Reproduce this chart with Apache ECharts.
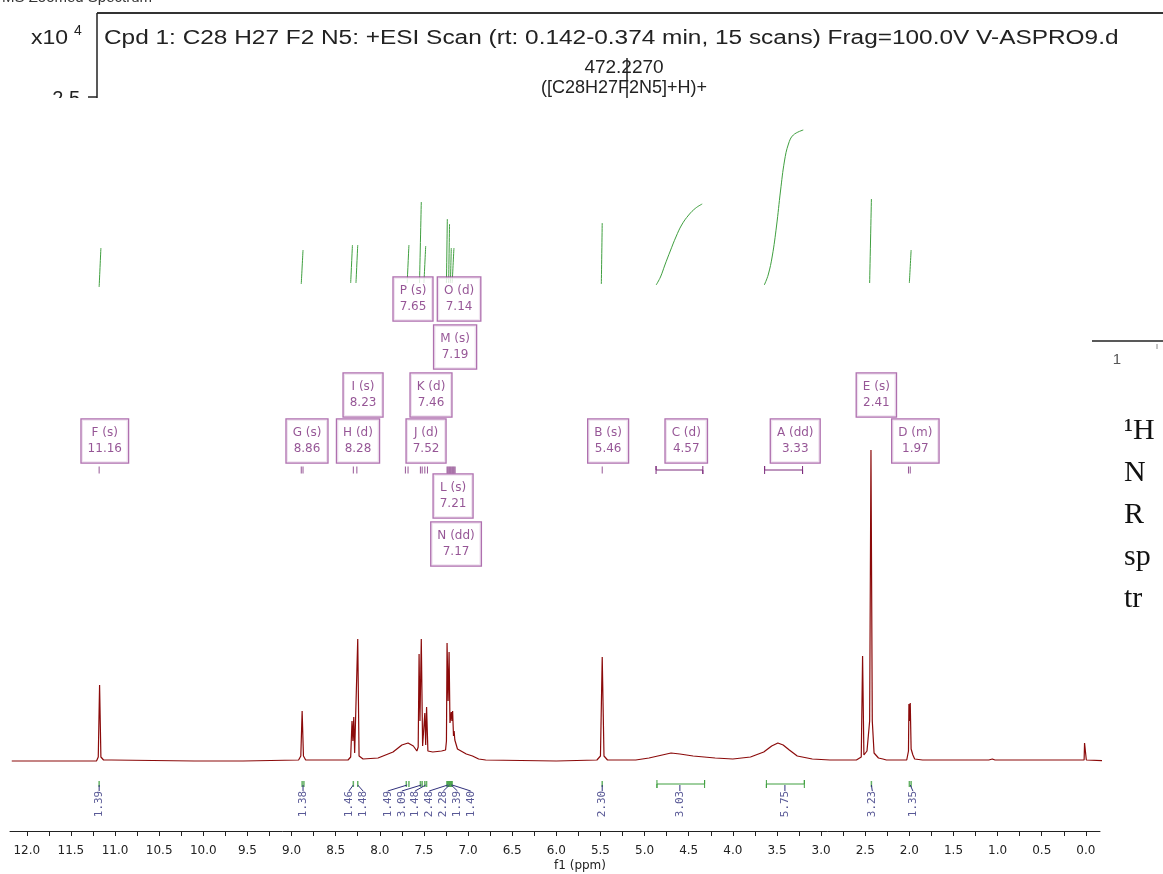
<!DOCTYPE html>
<html>
<head>
<meta charset="utf-8">
<script src="https://cdn.jsdelivr.net/npm/echarts@6.0.0/dist/echarts.min.js"></script>
<style>
  html, body { margin: 0; padding: 0; background: #fff; }
  #chart { width: 1163px; height: 874px; }
</style>
</head>
<body>
<div id="chart"></div>
<script>
// x axis ticks (ppm)
const xTickValues = [12.0, 11.5, 11.0, 10.5, 10.0, 9.5, 9.0, 8.5, 8.0, 7.5, 7.0, 6.5, 6.0, 5.5, 5.0, 4.5, 4.0, 3.5, 3.0, 2.5, 2.0, 1.5, 1.0, 0.5, 0.0];
const xMinorTicks = [11.75, 11.25, 10.75, 10.25, 9.75, 9.25, 8.75, 8.25, 7.75, 7.25, 6.75, 6.25, 5.75, 5.25, 4.75, 4.25, 3.75, 3.25, 2.75, 2.25, 1.75, 1.25, 0.75, 0.25];

// spectrum trace, [ppm, intensity]
const traceDownfield = [
  [12.17, 0], [11.81, 0], [11.80, 2], [11.79, 0], [11.21, 0], [11.19, 4], [11.175, 76], [11.16, 4],
  [11.13, 1], [11.04, 1], [11.03, 3], [11.02, 1], [10.10, 0], [10.09, 1], [10.08, 0], [9.55, 0],
  [9.54, 1], [9.53, 0], [8.92, 1], [8.895, 5], [8.88, 50], [8.865, 5], [8.84, 1], [8.36, 1],
  [8.33, 4], [8.315, 40], [8.305, 20], [8.295, 44], [8.285, 8], [8.265, 10], [8.25, 122],
  [8.235, 5], [8.19, 2], [8.02, 3]
];
const traceAromatic = [
  [7.85, 9], [7.75, 16], [7.68, 18], [7.62, 15], [7.58, 10], [7.565, 14], [7.555, 107],
  [7.545, 40], [7.53, 122], [7.515, 15], [7.495, 14], [7.49, 48], [7.48, 16], [7.47, 54],
  [7.455, 10], [7.40, 9], [7.30, 10], [7.255, 11], [7.245, 20], [7.238, 118], [7.226, 60],
  [7.215, 109], [7.205, 38], [7.19, 49], [7.183, 40], [7.175, 50], [7.165, 25], [7.158, 30],
  [7.15, 21], [7.12, 12], [7.02, 7], [6.95, 5], [6.88, 2], [6.80, 1]
];
const traceAliphatic = [
  [6.00, 0], [5.54, 1], [5.50, 5], [5.48, 104], [5.46, 5], [5.42, 1], [5.10, 1], [4.95, 3],
  [4.80, 6], [4.70, 8], [4.60, 7], [4.45, 5], [4.20, 3], [4.00, 2], [3.80, 4], [3.65, 9],
  [3.56, 15], [3.49, 18], [3.43, 16], [3.36, 11], [3.27, 5], [3.10, 2], [2.90, 1], [2.60, 1],
  [2.545, 4], [2.53, 105], [2.515, 6], [2.48, 10], [2.45, 40], [2.435, 311], [2.42, 40],
  [2.40, 8], [2.35, 3], [2.30, 2], [2.28, 3], [2.26, 1], [2.03, 1], [2.01, 10], [2.005, 57],
  [1.998, 40], [1.99, 58], [1.98, 12], [1.97, 9], [1.96, 6], [1.94, 2], [1.85, 1], [1.34, 1],
  [1.32, 3], [1.31, 1], [1.30, 3], [1.28, 1], [1.22, 1], [1.21, 2], [1.19, 1], [1.10, 1],
  [1.08, 3], [1.06, 2], [1.04, 4], [1.03, 1], [0.02, 1], [0.015, 18], [0.005, 18], [-0.005, 1],
  [-0.33, 0]
];

// integral curves (green) above the peaks
const integralCurves = [
  [[11.18, 474], [11.16, 513]],
  [[8.89, 477], [8.87, 511]],
  [[8.33, 478], [8.31, 516]],
  [[8.27, 478], [8.25, 516]],
  [[7.69, 478], [7.67, 516]],
  [[7.55, 478], [7.53, 559]],
  [[7.50, 478], [7.48, 515]],
  [[7.245, 478], [7.235, 542]],
  [[7.22, 478], [7.21, 537]],
  [[7.20, 478], [7.19, 513]],
  [[7.18, 478], [7.16, 513]],
  [[5.49, 477], [5.48, 538]],
  [[4.869, 476], [4.820, 484], [4.770, 496], [4.709, 510], [4.645, 524], [4.580, 536], [4.500, 546], [4.420, 553], [4.347, 557]],
  [[3.644, 476], [3.600, 486], [3.553, 505], [3.505, 535], [3.460, 570], [3.415, 600], [3.370, 617], [3.315, 626], [3.202, 631]],
  [[2.45, 478], [2.43, 562]],
  [[2.00, 478], [1.98, 511]]
];

// multiplet annotations
const multipletNames = ['F', 'G', 'H', 'I', 'J', 'K', 'M', 'P', 'O', 'L', 'N', 'B', 'C', 'A', 'E', 'D'];
const multipletTypes = ['s', 's', 'd', 's', 'd', 'd', 's', 's', 'd', 's', 'dd', 's', 'd', 'dd', 's', 'm'];
const multipletShifts = ['11.16', '8.86', '8.28', '8.23', '7.52', '7.46', '7.19', '7.65', '7.14', '7.21', '7.17', '5.46', '4.57', '3.33', '2.41', '1.97'];
const multipletLines = [11.18, 8.89, 8.87, 8.30, 8.26, 7.71, 7.68, 7.54, 7.52, 7.49, 7.46, 7.238, 7.227, 7.215, 7.204, 7.193, 7.181, 7.170, 7.159, 7.147, 5.48, 2.01, 1.99];
const multipletRanges = [[4.87, 4.34], [3.64, 3.21]];

// integrals
const integralValues = ['1.39', '1.38', '1.46', '1.48', '1.49', '3.09', '1.48', '2.48', '2.28', '1.39', '1.40', '2.30', '3.03', '5.75', '3.23', '1.35'];
const integralPeakPpm = [11.18, 8.87, 8.30, 8.25, 7.69, 7.53, 7.48, 7.23, 7.21, 7.19, 7.18, 5.48, 4.60, 3.41, 2.43, 1.99];
const integralTicks = [11.18, 8.88, 8.86, 8.30, 8.25, 7.70, 7.67, 7.54, 7.52, 7.49, 7.47, 7.24, 7.23, 7.22, 7.21, 7.20, 7.19, 7.18, 5.48, 2.43, 2.00, 1.98];
const integralRanges = [[4.86, 4.32], [3.62, 3.19]];

// layout only
const boxPpm = [11.116, 8.825, 8.247, 8.190, 7.476, 7.420, 7.147, 7.624, 7.102, 7.170, 7.136, 5.413, 4.528, 3.293, 2.374, 1.932];
const boxY = [320, 320, 320, 366, 320, 366, 414, 462, 462, 265, 217, 320, 320, 320, 366, 320];
const integralLabelPpm = [11.18, 8.87, 8.35, 8.19, 7.91, 7.75, 7.60, 7.44, 7.28, 7.12, 6.97, 5.48, 4.60, 3.41, 2.42, 1.96];

const PURPLE = '#7c2c7c';
const PURPLE_LINE = '#9b4c9b';
const GREEN = '#3f9f3f';
const NAVY = '#30307c';
const RED = '#8b0a0a';

const chart = echarts.init(document.getElementById('chart'));

let series = [];

series.push({
  type: 'line',
  data: traceDownfield.concat(traceAromatic, traceAliphatic),
  showSymbol: false,
  clip: false,
  lineStyle: { color: RED, width: 1.2 },
  z: 5,
  silent: true
});

integralCurves.forEach((c) => {
  series.push({
    type: 'line', data: c, showSymbol: false, smooth: 0.4,
    lineStyle: { color: GREEN, width: 1 }, silent: true
  });
});

// purple boxes
series.push({
  type: 'scatter',
  symbolSize: 0,
  data: boxPpm.map((p, i) => ({
    value: [p, boxY[i]],
    name: multipletNames[i] + ' (' + multipletTypes[i] + ')\n' + multipletShifts[i]
  })),
  label: {
    show: true, position: 'inside',
    formatter: (p) => p.name,
    color: PURPLE, fontSize: 12, fontFamily: 'DejaVu Sans', lineHeight: 16,
    align: 'center', padding: [6, 6, 5, 6],
    borderColor: PURPLE_LINE, borderWidth: 1.3, backgroundColor: '#fff'
  },
  z: 6, silent: true
});

series.push({
  type: 'scatter', symbol: 'rect', symbolSize: [1, 7],
  data: multipletLines.map((p) => [p, 291]),
  itemStyle: { color: PURPLE }, z: 4, silent: true
});

multipletRanges.forEach((r) => {
  series.push({
    type: 'line', showSymbol: false,
    data: [[r[0], 287], [r[0], 295], [r[0], 291], [r[1], 291], [r[1], 287], [r[1], 295]],
    lineStyle: { color: PURPLE, width: 1 }, silent: true
  });
});

// integral marks and labels below the trace
series.push({
  type: 'scatter', symbol: 'rect', symbolSize: [1.5, 6],
  data: integralTicks.map((p) => [p, -23]),
  itemStyle: { color: GREEN }, silent: true
});

integralRanges.forEach((r) => {
  series.push({
    type: 'line', showSymbol: false,
    data: [[r[0], -19], [r[0], -27], [r[0], -23], [r[1], -23], [r[1], -19], [r[1], -27]],
    lineStyle: { color: GREEN, width: 1 }, silent: true
  });
});

integralValues.forEach((v, i) => {
  series.push({
    type: 'line', showSymbol: false,
    data: [[integralLabelPpm[i], -30], [integralLabelPpm[i], -28], [integralPeakPpm[i], -24]],
    lineStyle: { color: NAVY, width: 1 }, silent: true
  });
});

series.push({
  type: 'scatter', symbolSize: 0,
  data: integralValues.map((v, i) => ({ value: [integralLabelPpm[i], -43], name: v })),
  label: {
    show: true, position: 'inside', rotate: 90,
    formatter: (p) => p.name,
    color: NAVY, fontSize: 11, fontFamily: 'DejaVu Sans Mono'
  },
  silent: true
});

const option = {
  animation: false,
  backgroundColor: '#fff',
  grid: { left: 10, right: 63, top: 100, bottom: 43 },
  xAxis: {
    type: 'value', inverse: true, min: -0.16, max: 12.19,
    axisLine: { onZero: false, lineStyle: { color: '#222', width: 1 } },
    axisTick: { length: 5, lineStyle: { color: '#222' }, customValues: xTickValues.concat(xMinorTicks) },
    axisLabel: {
      customValues: xTickValues, formatter: (v) => v.toFixed(1),
      color: '#222', fontSize: 12, fontFamily: 'DejaVu Sans', margin: 14
    },
    splitLine: { show: false }
  },
  yAxis: { type: 'value', min: -70, max: 661, show: false },
  series: series,
  graphic: [
    { type: 'text', left: 2, top: -10, style: { text: 'MS Zoomed Spectrum', font: '15px "Liberation Sans"', fill: '#333' } },
    { type: 'line', shape: { x1: 97, y1: 13, x2: 1163, y2: 13 }, style: { stroke: '#333', lineWidth: 2 } },
    { type: 'line', shape: { x1: 97, y1: 13, x2: 97, y2: 98 }, style: { stroke: '#222', lineWidth: 1.5 } },
    { type: 'text', x: 68, y: 38, scaleX: 1.15, style: { text: 'x10', font: '20px "Liberation Sans"', fill: '#222', align: 'right', verticalAlign: 'middle' } },
    { type: 'text', x: 74, y: 31, style: { text: '4', font: '14px "Liberation Sans"', fill: '#222', verticalAlign: 'middle' } },
    { type: 'text', x: 104, y: 38, scaleX: 1.22, style: { text: 'Cpd 1: C28 H27 F2 N5: +ESI Scan (rt: 0.142-0.374 min, 15 scans) Frag=100.0V V-ASPRO9.d', font: '20px "Liberation Sans"', fill: '#222', verticalAlign: 'middle' } },
    { type: 'text', x: 624, y: 68, style: { text: '472.2270', font: '19px "Liberation Sans"', fill: '#222', align: 'center', verticalAlign: 'middle' } },
    { type: 'text', x: 624, y: 88, style: { text: '([C28H27F2N5]+H)+', font: '18px "Liberation Sans"', fill: '#222', align: 'center', verticalAlign: 'middle' } },
    { type: 'line', shape: { x1: 627, y1: 58, x2: 627, y2: 100 }, style: { stroke: '#222', lineWidth: 1.5 } },
    { type: 'text', x: 80, y: 99, style: { text: '2.5', font: '20px "Liberation Sans"', fill: '#222', align: 'right', verticalAlign: 'middle' } },
    { type: 'line', shape: { x1: 88, y1: 97, x2: 97, y2: 97 }, style: { stroke: '#222', lineWidth: 1.5 } },
    { type: 'rect', shape: { x: 0, y: 98, width: 1163, height: 20 }, style: { fill: '#fff' } },
    { type: 'line', shape: { x1: 1092, y1: 341, x2: 1163, y2: 341 }, style: { stroke: '#222', lineWidth: 1.5 } },
    { type: 'line', shape: { x1: 1157, y1: 344, x2: 1157, y2: 349 }, style: { stroke: '#888', lineWidth: 1 } },
    { type: 'text', x: 1117, y: 360, style: { text: '1', font: '15px "Liberation Sans"', fill: '#555', align: 'center', verticalAlign: 'middle' } },
    { type: 'text', x: 1124, y: 431, style: { text: '\u00B9H', font: '30px "Liberation Serif"', fill: '#111', verticalAlign: 'middle' } },
    { type: 'text', x: 1124, y: 473, style: { text: 'N', font: '30px "Liberation Serif"', fill: '#111', verticalAlign: 'middle' } },
    { type: 'text', x: 1124, y: 515, style: { text: 'R', font: '30px "Liberation Serif"', fill: '#111', verticalAlign: 'middle' } },
    { type: 'text', x: 1124, y: 557, style: { text: 'sp', font: '30px "Liberation Serif"', fill: '#111', verticalAlign: 'middle' } },
    { type: 'text', x: 1124, y: 599, style: { text: 'tr', font: '30px "Liberation Serif"', fill: '#111', verticalAlign: 'middle' } },
    { type: 'text', x: 580, y: 866, style: { text: 'f1 (ppm)', font: '12px "DejaVu Sans"', fill: '#222', align: 'center', verticalAlign: 'middle' } }
  ]
};

chart.setOption(option);
</script>
</body>
</html>
